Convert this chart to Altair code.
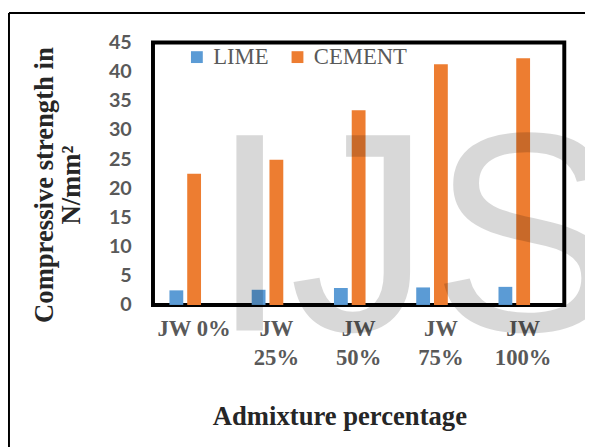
import altair as alt
import pandas as pd

categories = ["JW 0%", "JW 25%", "JW 50%", "JW 75%", "JW 100%"]
series = ["LIME", "CEMENT"]
slots = ["LIME", "CEMENT", "(empty)"]
lime = [2.5, 2.6, 2.9, 3.0, 3.1]
cement = [22.5, 24.9, 33.4, 41.3, 42.3]
y_ticks = [0, 5, 10, 15, 20, 25, 30, 35, 40, 45]
colors = ["#5B9BD5", "#ED7D31"]

rows = []
for c, l, m in zip(categories, lime, cement):
    rows.append({"cat": c, "series": "LIME", "value": l})
    rows.append({"cat": c, "series": "CEMENT", "value": m})
df = pd.DataFrame(rows)

W, H = 417, 266

bars = alt.Chart(df).mark_bar(size=14).encode(
    x=alt.X(
        "cat:N",
        sort=categories,
        scale=alt.Scale(paddingInner=0.4, paddingOuter=0.2),
        axis=alt.Axis(
            title="Admixture percentage",
            labelExpr="datum.value == 'JW 0%' ? datum.value : split(datum.value, ' ')",
            labelAngle=0,
            labelFont="Liberation Serif",
            labelFontWeight="bold",
            labelFontSize=23,
            labelColor="#595959",
            labelLineHeight=29,
            labelPadding=13,
            domain=False,
            ticks=False,
            titleFont="Liberation Serif",
            titleFontWeight="bold",
            titleFontSize=27,
            titleColor="#262626",
            titleX=189,
            titleY=121,
            titleBaseline="alphabetic",
        ),
    ),
    xOffset=alt.XOffset(
        "series:N",
        scale=alt.Scale(domain=slots, paddingInner=0.222, paddingOuter=0),
    ),
    y=alt.Y(
        "value:Q",
        scale=alt.Scale(domain=[0, 45], nice=False),
        axis=alt.Axis(
            values=y_ticks,
            title=["Compressive strength in", "N/mm²"],
            grid=False,
            domain=False,
            ticks=False,
            labelFont="Lato",
            labelFontWeight="bold",
            labelFontSize=20,
            labelColor="#595959",
            labelPadding=22,
            titleFont="Liberation Serif",
            titleFontWeight="bold",
            titleFontSize=27,
            titleColor="#262626",
            titleLineHeight=28,
            titleAngle=-90,
            titleX=-96,
            titleY=144,
            titleAlign="center",
            titleBaseline="bottom",
        ),
    ),
    color=alt.Color(
        "series:N",
        sort=series,
        scale=alt.Scale(domain=series, range=colors),
        legend=alt.Legend(
            title=None,
            orient="none",
            legendX=33,
            legendY=3,
            direction="horizontal",
            symbolType="square",
            symbolSize=144,
            symbolStrokeWidth=0,
            labelFont="Liberation Serif",
            labelFontSize=23,
            labelColor="#595959",
            labelOffset=5,
            columnPadding=17,
        ),
    ),
)

one = pd.DataFrame({"a": [0]})

watermark = alt.Chart(one).mark_text(
    text="IJS",
    align="left",
    baseline="alphabetic",
    fontSize=288,
    font="Liberation Sans",
    color="#000000",
    opacity=0.15,
).encode(x=alt.value(58), y=alt.value(292))

frame_top = alt.Chart(one).mark_rule(color="black", strokeWidth=2).encode(
    x=alt.value(-146), x2=alt.value(440), y=alt.value(-30)
)
frame_left = alt.Chart(one).mark_rule(color="black", strokeWidth=2).encode(
    x=alt.value(-146), y=alt.value(-30), y2=alt.value(410)
)

chart = alt.layer(bars, watermark, frame_top, frame_left).properties(
    width=W,
    height=H,
    autosize=alt.AutoSizeParams(type="none"),
    padding={"left": 147, "top": 32, "right": 21, "bottom": 142},
).configure_view(stroke="black", strokeWidth=4)

chart.save("out.html", embed_options={"renderer": "svg", "actions": False})
